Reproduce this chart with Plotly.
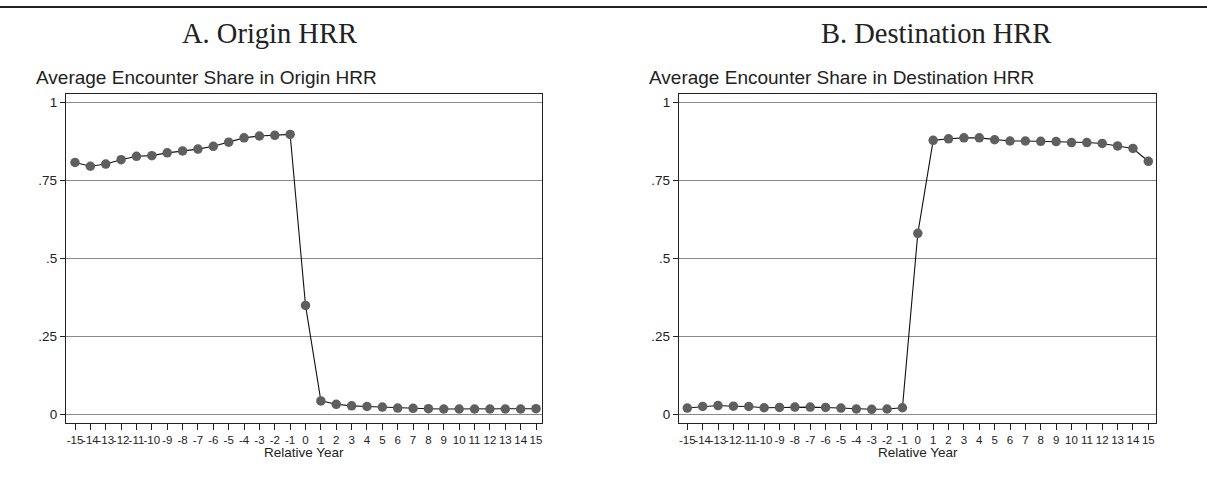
import plotly.graph_objects as go

# Relative year around the move
years = list(range(-15, 16))

# Average share of encounters in the origin HRR
origin_share = [0.807, 0.795, 0.802, 0.816, 0.827, 0.829, 0.838, 0.844, 0.850, 0.859,
                0.872, 0.886, 0.892, 0.894, 0.897, 0.349, 0.043, 0.032, 0.027, 0.025,
                0.023, 0.020, 0.019, 0.018, 0.017, 0.017, 0.017, 0.017, 0.017, 0.017, 0.018]

# Average share of encounters in the destination HRR
dest_share = [0.020, 0.025, 0.028, 0.026, 0.025, 0.021, 0.022, 0.023, 0.023, 0.022,
              0.020, 0.017, 0.016, 0.017, 0.021, 0.580, 0.878, 0.883, 0.886, 0.886,
              0.880, 0.876, 0.876, 0.875, 0.874, 0.871, 0.871, 0.868, 0.860, 0.852, 0.811]

panel_titles = ["A. Origin HRR", "B. Destination HRR"]
y_titles = ["Average Encounter Share in Origin HRR",
            "Average Encounter Share in Destination HRR"]
y_tickvals = [0, 0.25, 0.5, 0.75, 1]
y_ticktext = ["0", ".25", ".5", ".75", "1"]

W, H = 1207, 489
SANS = "Liberation Sans, Arial, sans-serif"
SERIF = "Liberation Serif, Times New Roman, serif"

# plot boxes in pixel space: (left, right, top, bottom)
boxes = [(66, 542, 94, 423), (679, 1156, 94, 423)]
x_ranges = [[-15.586, 15.39], [-15.54, 15.50]]
y_range = [-0.0279, 1.0266]

fig = go.Figure()

for i, (series, (l, r, t, b)) in enumerate(zip([origin_share, dest_share], boxes)):
    xa = "x" if i == 0 else "x2"
    ya = "y" if i == 0 else "y2"
    fig.add_trace(go.Scatter(
        x=years, y=series, mode="lines+markers",
        line=dict(color="#111111", width=1.1),
        marker=dict(color="#5f5f5f", size=9.5, line=dict(width=0)),
        xaxis=xa, yaxis=ya, showlegend=False, cliponaxis=False,
    ))
    axis_common = dict(
        showline=True, linecolor="#222222", linewidth=1.3, mirror=True,
        ticks="outside", tickwidth=1, tickcolor="#222222",
        zeroline=False,
    )
    xkey = "xaxis" if i == 0 else "xaxis2"
    ykey = "yaxis" if i == 0 else "yaxis2"
    fig.update_layout(**{
        xkey: dict(
            domain=[l / W, r / W], range=x_ranges[i], anchor=ya,
            tickmode="array", tickvals=years, ticktext=[str(v) for v in years],
            tickangle=0, tickfont=dict(family=SANS, size=11.5, color="#222222"),
            showgrid=False, ticklen=6,
            **axis_common,
        ),
        ykey: dict(
            domain=[1 - b / H, 1 - t / H], range=y_range, anchor=xa,
            tickmode="array", tickvals=y_tickvals, ticktext=y_ticktext,
            tickfont=dict(family=SANS, size=13.5, color="#222222"),
            showgrid=True, gridcolor="#8a8a8a", gridwidth=1, ticklen=5,
            **axis_common,
        ),
    })
    cx = (l + r) / 2
    # x-axis title
    fig.add_annotation(text="Relative Year", xref="paper", yref="paper",
                       x=cx / W, y=1 - 452 / H, showarrow=False,
                       font=dict(family=SANS, size=13.5, color="#222222"),
                       xanchor="center", yanchor="middle")
    # y-axis title placed above the plot box
    fig.add_annotation(text=y_titles[i], xref="paper", yref="paper",
                       x=(l - 32) / W, y=1 - 78 / H, showarrow=False,
                       font=dict(family=SANS, size=19, color="#222222"),
                       xanchor="left", yanchor="middle")

# panel titles
title_centers = [269, 936]
for txt, cx in zip(panel_titles, title_centers):
    fig.add_annotation(text=txt, xref="paper", yref="paper",
                       x=cx / W, y=1 - 33.5 / H, showarrow=False,
                       font=dict(family=SERIF, size=28.5, color="#222222"),
                       xanchor="center", yanchor="middle")

# rule across the top of the figure
fig.add_shape(type="line", xref="paper", yref="paper",
              x0=0, x1=1, y0=1 - 7 / H, y1=1 - 7 / H,
              line=dict(color="#222222", width=2))

fig.update_layout(
    width=W, height=H,
    margin=dict(l=0, r=0, t=0, b=0),
    paper_bgcolor="white", plot_bgcolor="white",
)

fig.write_html("out.html")
